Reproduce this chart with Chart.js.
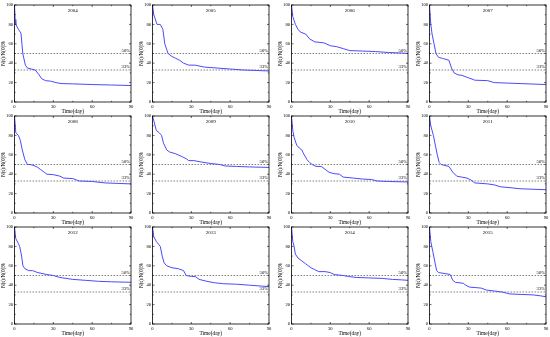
<!DOCTYPE html>
<html>
<head>
<meta charset="utf-8">
<script src="https://cdn.jsdelivr.net/npm/chart.js@4.4.0/dist/chart.umd.min.js"></script>
<style>
  html, body { margin: 0; padding: 0; background: #fff; }
  #wrap { position: relative; width: 550px; height: 337px; overflow: hidden; }
  .cell { position: absolute; width: 138px; height: 115px; }
</style>
</head>
<body>
<div id="wrap"></div>
<script>
/*
 *  Data
 */
var years = ["2004", "2005", "2006", "2007", "2008", "2009", "2010", "2011", "2012", "2013", "2014", "2015"];

var days2004 = [0, 0.5, 1, 3, 5, 6.4, 8.4, 10, 13, 16, 19, 21, 24, 28, 32, 36, 45, 60, 75, 90];
var n2004 = [100, 85, 80, 75, 71, 50, 38, 35, 34, 33, 28, 24, 22, 21.5, 20, 19, 18.7, 18, 17.5, 17];

var days2005 = [0, 1, 3.5, 6, 8, 9.5, 12, 15, 18, 21, 24, 28, 33, 40, 50, 60, 70, 80, 90];
var n2005 = [100, 90, 80, 80, 75, 60, 50, 47, 45, 43, 40, 38, 38, 36, 35, 34, 33, 32.5, 32];

var days2006 = [0, 1, 3, 5, 7, 11, 14, 18, 25, 30, 35, 40, 45, 55, 65, 75, 85, 90];
var n2006 = [100, 88, 80, 75, 72, 70, 65, 62, 61, 58, 57, 55, 53, 52.5, 52, 51, 50.5, 50];

var days2007 = [0, 1, 2, 3.5, 5, 7, 10, 15, 17, 19, 22, 25, 30, 35, 45, 50, 60, 70, 80, 90];
var n2007 = [100, 80, 70, 60, 50, 46, 45, 43, 35, 30, 28, 27.5, 25, 22.5, 22, 20, 19.5, 19, 18.5, 18];

var days2008 = [0, 1, 3, 4.5, 6, 8, 10, 12, 15, 18, 20, 23, 25, 30, 35, 38, 45, 48, 50, 60, 70, 80, 90];
var n2008 = [100, 83, 80, 75, 65, 55, 50, 50, 49, 47, 45, 42, 40, 39.5, 38, 36, 35.5, 34, 33, 32.5, 31, 30.5, 30];

var days2009 = [0, 1, 3, 5, 7, 8.5, 11, 13, 18, 23, 26, 28, 32, 38, 45, 52, 56, 65, 75, 90];
var n2009 = [100, 95, 85, 83, 80, 72, 65, 63, 61, 58, 56, 54, 54, 52.5, 51, 50, 48.5, 48, 47.5, 47];

var days2010 = [0, 1, 2, 4, 6, 8, 9, 12, 14, 16, 19, 23, 26, 29, 33, 37, 40, 48, 55, 62, 66, 75, 90];
var n2010 = [100, 85, 78, 70, 67, 65, 62, 55, 52, 50, 48, 48, 45, 42, 40.5, 40, 37, 36, 35, 34.5, 33, 32.5, 32];

var days2011 = [0, 1, 3, 4.5, 6, 7.5, 9, 12, 15, 18, 21, 25, 29, 32, 35, 45, 50, 55, 63, 70, 80, 90];
var n2011 = [100, 90, 80, 70, 60, 52, 50, 49, 48, 42, 38, 37, 36, 34, 31, 30, 29, 27, 26, 25, 24.5, 24];

var days2012 = [0, 1, 3, 4, 5.5, 6.5, 8, 11, 14, 18, 25, 30, 35, 45, 55, 65, 75, 90];
var n2012 = [100, 88, 83, 80, 70, 60, 57, 55, 55, 53, 51, 50, 48, 46, 45, 44, 43.5, 43];

var days2013 = [0, 1, 3, 6, 7.5, 9, 11, 15, 20, 24, 26, 30, 33, 36, 42, 48, 55, 65, 75, 85, 90];
var n2013 = [100, 90, 85, 80, 70, 63, 60, 58, 57, 55, 50, 49, 49, 46, 44, 42.5, 41.5, 41, 40, 39, 38.5];

var days2014 = [0, 1, 2, 3, 5, 8, 11, 15, 18, 21, 26, 30, 33, 40, 44, 50, 60, 70, 78, 85, 90];
var n2014 = [100, 85, 80, 72, 68, 65, 62, 58, 56, 54, 54, 53, 51, 50, 49, 48, 47.5, 47, 46, 45.5, 45];

var days2015 = [0, 1, 2.5, 4, 5.5, 7, 12, 16, 18, 20, 26, 28, 31, 36, 40, 44, 50, 56, 62, 70, 80, 86, 90];
var n2015 = [100, 85, 75, 65, 55, 53, 52, 51, 45, 43, 42, 40, 38, 37.5, 37, 35, 34, 33, 31, 30.5, 30, 29, 28];

var dayLists = [days2004, days2005, days2006, days2007, days2008, days2009, days2010, days2011, days2012, days2013, days2014, days2015];
var valueLists = [n2004, n2005, n2006, n2007, n2008, n2009, n2010, n2011, n2012, n2013, n2014, n2015];

var refLevels = [50, 33];
var refLabels = ["50%", "33%"];
var xTicks = [0, 30, 60, 90];

/*
 *  Drawing helpers
 */
var serif = "'Liberation Serif', 'Times New Roman', serif";

var framePlugin = {
    id: "frame",
    afterDatasetsDraw: function (chart, args, opts) {
        var ctx = chart.ctx;
        var a = chart.chartArea;
        var xs = chart.scales.x;
        var ys = chart.scales.y;
        ctx.save();
        ctx.strokeStyle = "#000";
        ctx.lineWidth = 0.8;
        ctx.strokeRect(a.left, a.top, a.right - a.left, a.bottom - a.top);

        // inward ticks
        ctx.lineWidth = 0.6;
        ctx.beginPath();
        for (var v = 0; v <= 90; v += 15) {
            var px = xs.getPixelForValue(v);
            var len = (v % 30 === 0) ? 2 : 1.2;
            ctx.moveTo(px, a.bottom); ctx.lineTo(px, a.bottom - len);
            ctx.moveTo(px, a.top); ctx.lineTo(px, a.top + len);
        }
        for (var w = 0; w <= 100; w += 10) {
            var py = ys.getPixelForValue(w);
            var l2 = (w % 20 === 0) ? 2 : 1.2;
            ctx.moveTo(a.left, py); ctx.lineTo(a.left + l2, py);
            ctx.moveTo(a.right, py); ctx.lineTo(a.right - l2, py);
        }
        ctx.stroke();

        // year label
        ctx.fillStyle = "#000";
        ctx.font = "5px " + serif;
        ctx.textAlign = "center";
        ctx.textBaseline = "middle";
        ctx.fillText(opts.year, (a.left + a.right) / 2, a.top + 6);

        // reference labels
        ctx.font = "4.6px " + serif;
        ctx.textAlign = "right";
        ctx.textBaseline = "bottom";
        for (var i = 0; i < refLevels.length; i++) {
            ctx.fillText(refLabels[i], a.right - 1, ys.getPixelForValue(refLevels[i]) - 0.5);
        }
        ctx.restore();
    }
};

var wrap = document.getElementById("wrap");

years.forEach(function (year, i) {
    var col = i % 4;
    var row = Math.floor(i / 4);

    var cell = document.createElement("div");
    cell.className = "cell";
    cell.style.left = (col * 138.3) + "px";
    cell.style.top = (row * 111) + "px";
    var canvas = document.createElement("canvas");
    canvas.width = 138;
    canvas.height = 115;
    cell.appendChild(canvas);
    wrap.appendChild(cell);

    var points = dayLists[i].map(function (d, k) {
        return { x: d, y: valueLists[i][k] };
    });

    var datasets = [{
        data: points,
        borderColor: "#4a4aff",
        borderWidth: 1,
        pointRadius: 0,
        tension: 0,
        order: 0
    }];
    refLevels.forEach(function (lv) {
        datasets.push({
            data: [{ x: 0, y: lv }, { x: 90, y: lv }],
            borderColor: "#333",
            borderWidth: 0.6,
            borderDash: [1.6, 1.4],
            pointRadius: 0,
            order: 1
        });
    });

    new Chart(canvas, {
        type: "line",
        data: { datasets: datasets },
        plugins: [framePlugin],
        options: {
            responsive: false,
            animation: false,
            devicePixelRatio: 1,
            layout: { padding: { left: 0, right: 7, top: 5, bottom: 0 } },
            plugins: {
                legend: { display: false },
                tooltip: { enabled: false },
                frame: { year: year }
            },
            scales: {
                x: {
                    type: "linear",
                    min: 0,
                    max: 90,
                    afterBuildTicks: function (scale) {
                        scale.ticks = xTicks.map(function (v) { return { value: v }; });
                    },
                    grid: { display: false, drawTicks: false },
                    border: { display: false },
                    ticks: {
                        color: "#000",
                        padding: 2,
                        maxRotation: 0,
                        font: { family: serif, size: 4.6 }
                    },
                    title: {
                        display: true,
                        text: "Time(day)",
                        color: "#000",
                        padding: { top: 0.3, bottom: 0 },
                        font: { family: serif, size: 5.4 }
                    },
                    afterFit: function (scale) { scale.height = 13; }
                },
                y: {
                    min: 0,
                    max: 100,
                    ticks: {
                        stepSize: 20,
                        color: "#000",
                        padding: 1.5,
                        font: { family: serif, size: 4.6 }
                    },
                    grid: { display: false, drawTicks: false },
                    border: { display: false },
                    title: {
                        display: true,
                        text: "N(t)/N(0)%",
                        color: "#000",
                        padding: { top: 0, bottom: 0 },
                        font: { family: serif, size: 5.4 }
                    },
                    afterFit: function (scale) { scale.width = 14.5; }
                }
            }
        }
    });
});
</script>
</body>
</html>
